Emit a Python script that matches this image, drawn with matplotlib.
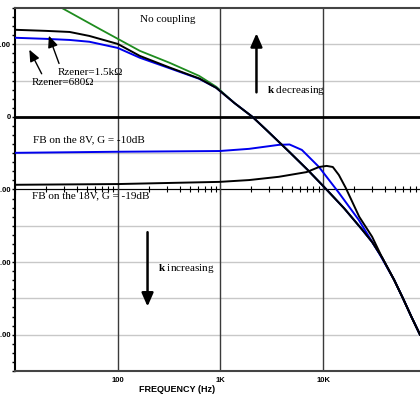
import matplotlib.pyplot as plt
import matplotlib.ticker as mticker
import numpy as np

plt.rcParams["mathtext.fontset"] = "custom"
plt.rcParams["mathtext.bf"] = "Liberation Serif:bold"
plt.rcParams["mathtext.rm"] = "Liberation Serif"

# high-frequency part shared by every curve (Hz, dB)
main_f = [2050, 2800, 4700, 7000, 10200, 16000, 24000, 30000, 37500, 49000, 60000, 72000, 87500]
main_db = [0.0, -3.6, -9.7, -14.5, -19.3, -25.2, -31.1, -34.5, -38.8, -44.9, -50.1, -55.0, -60.0]

# low-frequency parts
nocoup_f = [17.5, 28.6, 67, 164, 320, 620, 910, 1370]
nocoup_db = [33.0, 30.0, 24.2, 18.2, 14.9, 11.3, 8.3, 3.8]

rz1k5_f = [10, 20, 34, 53, 100, 164, 320, 620, 910, 1370]
rz1k5_db = [24.0, 23.7, 23.4, 22.3, 20.1, 16.8, 13.6, 10.6, 8.0, 3.8]

rz680_f = [10, 20, 34, 53, 100, 164, 320, 620, 910, 1370]
rz680_db = [21.8, 21.5, 21.2, 20.7, 19.0, 16.3, 13.4, 10.5, 8.0, 3.8]

fb8_f = [10, 100, 980, 1900, 3700, 4700, 6200, 9100, 14200, 22200, 34900]
fb8_db = [-9.9, -9.6, -9.4, -8.8, -7.7, -7.6, -9.1, -13.8, -20.9, -28.4, -37.5]

fb18_f = [10, 100, 980, 1900, 3700, 6900, 9100, 10800, 12400, 14200, 16600, 22400, 29900]
fb18_db = [-18.7, -18.5, -17.9, -17.4, -16.5, -15.2, -13.8, -13.5, -13.8, -16.0, -19.6, -27.5, -33.0]

xlabels = {100: "100", 1000: "1K", 10000: "10K"}
ylabels = {20: "20.00", 0: "0", -20: "-20.00", -40: "-40.00", -60: "-60.00"}


def join(f, db, tail_from):
    # low part followed by the common high-frequency tail
    ff = list(f) + [x for x in main_f if x > tail_from]
    dd = list(db) + [d for x, d in zip(main_f, main_db) if x > tail_from]
    return ff, dd


fig = plt.figure(figsize=(4.2, 3.94), dpi=100)
ax = fig.add_axes([15 / 420, 1 - 371 / 394, 1 - 15 / 420, (371 - 8) / 394])
ax.set_xscale("log")
ax.set_xlim(10, 87500)
ax.set_ylim(-70, 30)

# grid
for yv in range(-60, 30, 10):
    ax.axhline(yv, color="#c8c8c8", lw=1, zorder=0)
for xv in xlabels:
    ax.axvline(xv, color="#3a3a3a", lw=1, zorder=0.5)
ax.axhline(0, color="black", lw=2, zorder=1)

# -20 dB line drawn as an axis with log ticks
sec = ax.secondary_xaxis(0.5)
sec.spines["bottom"].set_linewidth(1)
sec.xaxis.set_major_locator(mticker.LogLocator(base=10))
sec.xaxis.set_minor_locator(mticker.LogLocator(base=10, subs=np.arange(2, 10)))
sec.xaxis.set_major_formatter(mticker.NullFormatter())
sec.xaxis.set_minor_formatter(mticker.NullFormatter())
sec.tick_params(which="both", direction="inout", width=0.8)
sec.tick_params(which="major", length=7)
sec.tick_params(which="minor", length=5)

f, d = join(nocoup_f, nocoup_db, 1370)
ax.plot(f, d, color="#1e8c1e", lw=1.3, zorder=2)
f, d = join(rz680_f, rz680_db, 1370)
ax.plot(f, d, color="#0000ee", lw=1.4, zorder=3)
f, d = join(fb8_f, fb8_db, 37500)
ax.plot(f, d, color="#0000ee", lw=1.4, zorder=3)
f, d = join(rz1k5_f, rz1k5_db, 1370)
ax.plot(f, d, color="black", lw=1.4, zorder=4)
f, d = join(fb18_f, fb18_db, 30000)
ax.plot(f, d, color="black", lw=1.4, zorder=4)

# axes styling
for s in ["top", "bottom"]:
    ax.spines[s].set_color("#444444")
    ax.spines[s].set_linewidth(1.5)
ax.spines["left"].set_linewidth(1.5)
ax.spines["right"].set_visible(False)

ax.xaxis.set_major_locator(mticker.FixedLocator(list(xlabels)))
ax.xaxis.set_major_formatter(mticker.FixedFormatter(list(xlabels.values())))
ax.xaxis.set_minor_locator(mticker.NullLocator())
ax.tick_params(axis="x", length=0, pad=4, labelsize=5.5)
ax.yaxis.set_major_locator(mticker.FixedLocator(list(ylabels)))
ax.yaxis.set_major_formatter(mticker.FixedFormatter(list(ylabels.values())))
ax.yaxis.set_minor_locator(mticker.MultipleLocator(2.5))
ax.tick_params(axis="y", which="major", length=2.5, width=1, pad=0.3, labelsize=5.5)
ax.tick_params(axis="y", which="minor", length=2.2, width=1)
for lab in ax.get_xticklabels() + ax.get_yticklabels():
    lab.set_fontweight("bold")
    lab.set_family("Liberation Sans")

fig.text(177 / 420, 1 - 390 / 394, "FREQUENCY (Hz)", ha="center", va="center",
         fontsize=6.5, fontweight="bold", family="Liberation Sans")

serif = dict(family="Liberation Serif", fontsize=8, va="center")
ax.text(164, 26.7, "No coupling", ha="left", **serif)
ax.text(26, 12.1, "Rzener=1.5k\u03a9", ha="left", **serif)
ax.text(14.6, 9.4, "Rzener=680\u03a9", ha="left", **serif)
ax.text(15, -6.3, "FB on the 8V, G = -10dB", ha="left", **serif)
ax.text(14.5, -21.8, "FB on the 18V, G = -19dB", ha="left", **serif)
ax.text(2860, 7.4, r"$\mathbf{k}$ decreasing", ha="left", **serif)
ax.text(244, -41.9, r"$\mathbf{k}$ increasing", ha="left", **serif)

arrow = dict(arrowstyle="-|>,head_width=0.35,head_length=0.8", color="black", lw=1.8)
ax.annotate("", xy=(2240, 23.8), xytext=(2240, 6.0), arrowprops=arrow)
ax.annotate("", xy=(195, -53.0), xytext=(195, -31.0), arrowprops=arrow)
thin = dict(arrowstyle="-|>,head_width=0.3,head_length=0.7", color="black", lw=1)
ax.annotate("", xy=(20.9, 23.1), xytext=(27.4, 14.0), arrowprops=thin)
ax.annotate("", xy=(13.4, 19.2), xytext=(18.7, 11.2), arrowprops=thin)

plt.savefig("out.png", dpi=100)
